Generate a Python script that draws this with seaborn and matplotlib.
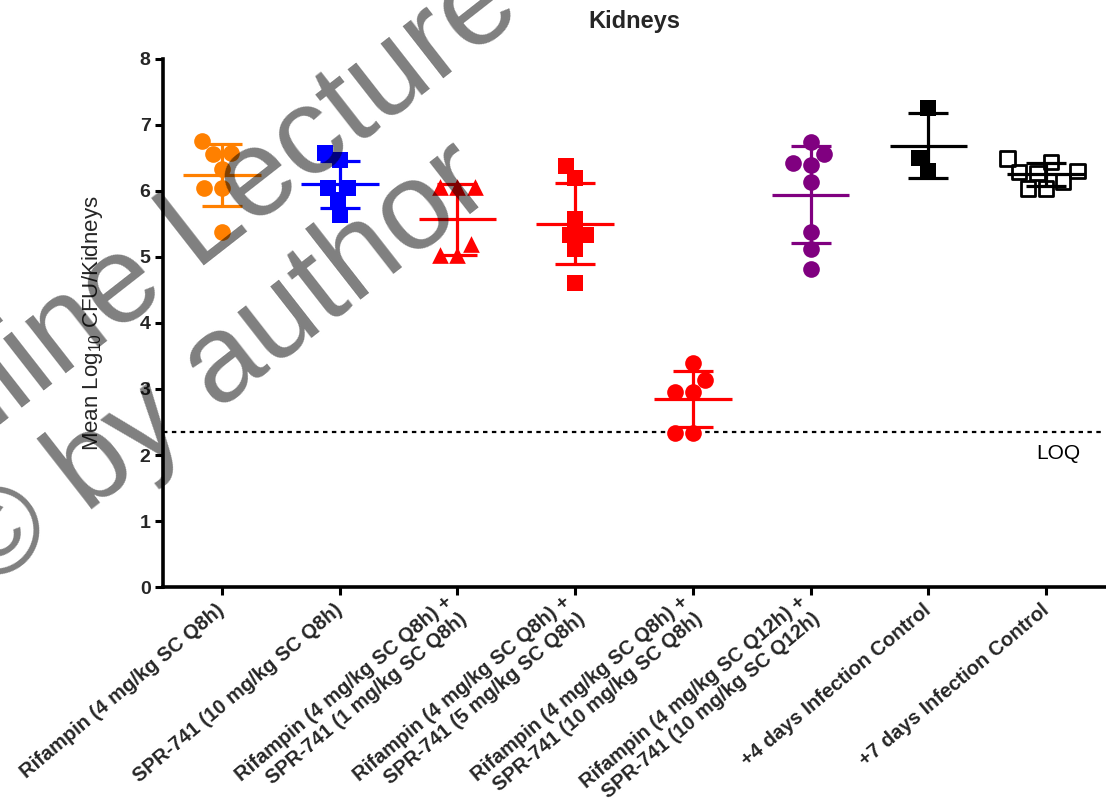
import numpy as np
import pandas as pd
import matplotlib
matplotlib.use("Agg")
import matplotlib.pyplot as plt
import seaborn as sns

# ---------------- data ----------------
categories = [
    "Rifampin (4 mg/kg SC Q8h)",
    "SPR-741 (10 mg/kg SC Q8h)",
    "Rifampin (4 mg/kg SC Q8h) +\nSPR-741 (1 mg/kg SC Q8h)",
    "Rifampin (4 mg/kg SC Q8h) +\nSPR-741 (5 mg/kg SC Q8h)",
    "Rifampin (4 mg/kg SC Q8h) +\nSPR-741 (10 mg/kg SC Q8h)",
    "Rifampin (4 mg/kg SC Q12h) +\nSPR-741 (10 mg/kg SC Q12h)",
    "+4 days Infection Control",
    "+7 days Infection Control",
]
rif4 = [6.75, 6.57, 6.56, 6.34, 6.04, 6.04, 5.38]
spr10 = [6.57, 6.47, 6.04, 6.04, 5.86, 5.63]
combo1 = [6.06, 6.06, 6.06, 5.19, 5.03, 5.03]
combo5 = [6.38, 6.19, 5.58, 5.34, 5.34, 5.12, 4.60]
combo10 = [3.39, 3.13, 2.95, 2.95, 2.34, 2.34]
combo10_q12 = [6.74, 6.56, 6.43, 6.39, 6.13, 5.38, 5.12, 4.82]
ctrl4 = [7.25, 6.50, 6.31]
ctrl7 = [6.49, 6.44, 6.30, 6.29, 6.27, 6.14, 6.04, 6.04]
series = [rif4, spr10, combo1, combo5, combo10, combo10_q12, ctrl4, ctrl7]
loq = 2.35

colors = ["#FF8000", "#0000FF", "#FF0000", "#FF0000", "#FF0000", "#800080", "#000000", "#000000"]
markers = ["o", "s", "^", "s", "o", "o", "s", "s"]
filled = [True, True, True, True, False, True, True, False]
sizes = [12, 11, 12, 11, 12, 12, 11, 10.5]

# ---------------- style ----------------
sns.set_style("ticks")
plt.rcParams["font.family"] = ["Liberation Sans", "DejaVu Sans"]
plt.rcParams["mathtext.fontset"] = "custom"
plt.rcParams["mathtext.rm"] = "Liberation Sans"
plt.rcParams["mathtext.it"] = "Liberation Sans:italic"
plt.rcParams["mathtext.bf"] = "Liberation Sans:bold"

fig = plt.figure(figsize=(11.06, 8.09), dpi=100)
ax = fig.add_axes([0.1474, 0.2744, 0.8517, 0.6527])

for i, vals in enumerate(series):
    df = pd.DataFrame({"group": categories[i], "value": vals})
    sns.swarmplot(data=df, x="group", y="value", order=categories,
                  color=colors[i], marker=markers[i], size=sizes[i],
                  ax=ax, zorder=3, linewidth=0)
    coll = ax.collections[-1]
    if not filled[i]:
        coll.set_facecolor("none")
        coll.set_edgecolor(colors[i])
        coll.set_linewidth(2.0)
    # mean and SD
    m = np.mean(vals)
    sd = np.std(vals, ddof=1)
    ax.hlines(m, i - 0.33, i + 0.33, color=colors[i], lw=2.3, zorder=4)
    ax.vlines(i, m - sd, m + sd, color=colors[i], lw=2.3, zorder=4)
    ax.hlines([m - sd, m + sd], i - 0.17, i + 0.17, color=colors[i], lw=2.3, zorder=4)

# LOQ line
ax.axhline(loq, color="black", lw=1.6, ls=(0, (2, 2)), zorder=2)
ax.text(7.1, 2.03, "LOQ", ha="center", va="center", fontsize=15, color="black")

ax.set_xlim(-0.5, 7.5)
ax.set_ylim(0, 8)
ax.set_yticks(range(0, 9))
ax.set_yticklabels([str(v) for v in range(0, 9)], fontsize=14, fontweight="bold")
ax.set_xticks(range(len(categories)))
ax.set_xticklabels(categories, rotation=40, ha="right", va="center",
                   rotation_mode="anchor", fontsize=14.5, fontweight="bold",
                   multialignment="right")
ax.tick_params(axis="both", which="major", length=6, width=2.2, color="black")
ax.tick_params(axis="x", pad=9)
ax.tick_params(axis="y", pad=3)
ax.set_xlabel("")
ax.set_ylabel("Mean Log$_{\\mathregular{10}}$ CFU/Kidneys", fontsize=16)
ax.yaxis.set_label_coords(-0.062, 0.5)
ax.set_title("Kidneys", fontsize=17, fontweight="bold", pad=22)

for side in ["top", "right"]:
    ax.spines[side].set_visible(False)
for side in ["left", "bottom"]:
    ax.spines[side].set_linewidth(2.6)
    ax.spines[side].set_color("black")

# watermark
fig.text(525 / 1106, 1 - 15 / 809, "Online Lecture", rotation=38, rotation_mode="anchor",
         ha="right", va="baseline", fontsize=90, color="black", alpha=0.5, zorder=10)
fig.text(497 / 1106, 1 - 194 / 809, "\u00a9 by author", rotation=38, rotation_mode="anchor",
         ha="right", va="baseline", fontsize=90, color="black", alpha=0.5, zorder=10)

fig.savefig("out.png", dpi=100)
